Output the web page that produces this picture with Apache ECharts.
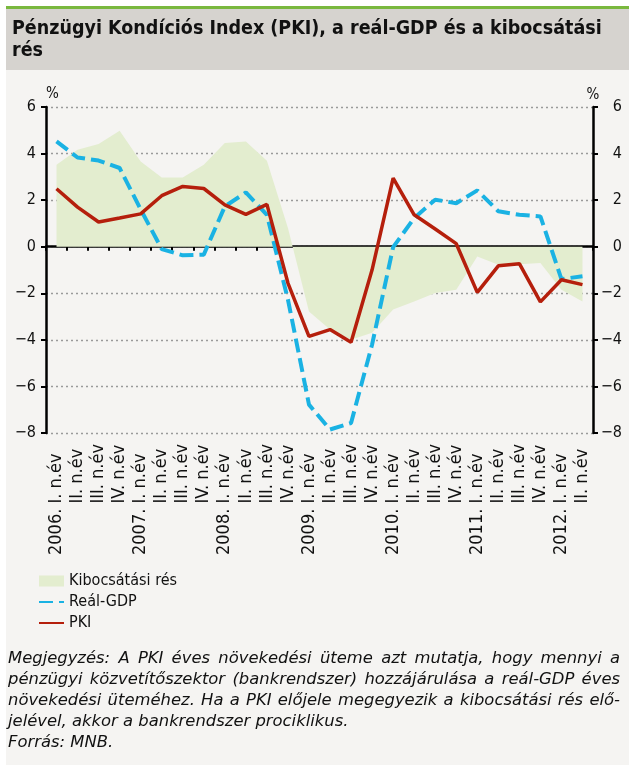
<!DOCTYPE html>
<html>
<head>
<meta charset="utf-8">
<script src="https://cdn.jsdelivr.net/npm/echarts@6/dist/echarts.min.js"></script>
<style>
  html, body { margin: 0; padding: 0; background: #fff; }
  #chart { width: 629px; height: 765px; }
</style>
</head>
<body>
<div id="chart"></div>
<script>
const quarters = ['2006Q1', '2006Q2', '2006Q3', '2006Q4', '2007Q1', '2007Q2', '2007Q3', '2007Q4',
  '2008Q1', '2008Q2', '2008Q3', '2008Q4', '2009Q1', '2009Q2', '2009Q3', '2009Q4',
  '2010Q1', '2010Q2', '2010Q3', '2010Q4', '2011Q1', '2011Q2', '2011Q3', '2011Q4',
  '2012Q1', '2012Q2'];
// year part of the tick label (only on the first quarter) and quarter part
const tickYears = ['2006.', '', '', '', '2007.', '', '', '', '2008.', '', '', '', '2009.', '', '', '',
  '2010.', '', '', '', '2011.', '', '', '', '2012.', ''];
const tickQuarters = ['I. n.év', 'II. n.év', 'III. n.év', 'IV. n.év'];

// kibocsátási rés (area)
const outputGap = [3.52, 4.16, 4.41, 4.98, 3.66, 2.97, 2.97, 3.52, 4.45, 4.52, 3.69, 0.8,
  -2.78, -3.56, -4.0, -3.7, -2.7, -2.35, -1.99, -1.85, -0.42, -0.77, -0.75, -0.70, -1.85, -2.35];
// reál-GDP
const realGdp = [4.52, 3.83, 3.70, 3.38, 1.6, -0.10, -0.37, -0.34, 1.73, 2.33, 1.37, -2.27,
  -6.78, -7.85, -7.57, -4.2, -0.02, 1.23, 2.02, 1.87, 2.42, 1.52, 1.37, 1.30, -1.39, -1.27];
// PKI
const pki = [2.49, 1.70, 1.06, 1.23, 1.41, 2.19, 2.59, 2.50, 1.80, 1.39, 1.82, -1.56,
  -3.85, -3.56, -4.10, -0.99, 2.95, 1.37, 0.76, 0.13, -1.96, -0.82, -0.73, -2.37, -1.42, -1.63];

const seriesNames = ['Kibocsátási rés', 'Reál-GDP', 'PKI'];
const titleText = 'Pénzügyi Kondíciós Index (PKI), a reál-GDP és a kibocsátási\nrés';
const noteLines = [
  'Megjegyzés: A PKI éves növekedési üteme azt mutatja, hogy mennyi a',
  'pénzügyi közvetítőszektor (bankrendszer) hozzájárulása a reál-GDP éves',
  'növekedési üteméhez. Ha a PKI előjele megegyezik a kibocsátási rés elő-',
  'jelével, akkor a bankrendszer prociklikus.',
  'Forrás: MNB.'
];
const justifiedLines = 3; // first three lines are justified

const FONT = '"DejaVu Sans Condensed", "DejaVu Sans", sans-serif';
const NOTE_FONT = 'italic 16.4px "DejaVu Sans", sans-serif';
const TXT = '#111';

let myChart = echarts.init(document.getElementById('chart'), null, {renderer: 'canvas'});

// justified note text: spread words over the full width
let measureCtx = document.createElement('canvas').getContext('2d');
measureCtx.font = NOTE_FONT;
let noteLeft = 8, noteWidth = 612;
let noteGraphics = [];
noteLines.forEach((line, i) => {
  let top = 651 + i * 21;
  if (i >= justifiedLines) {
    noteGraphics.push({type: 'text', left: noteLeft, top: top, style: {text: line, font: NOTE_FONT, fill: TXT}});
    return;
  }
  let words = line.split(' ');
  let wordsW = words.reduce((s, w) => s + measureCtx.measureText(w).width, 0);
  let gap = (noteWidth - wordsW) / (words.length - 1);
  let x = noteLeft;
  words.forEach(w => {
    noteGraphics.push({type: 'text', x: x, y: top, style: {text: w, font: NOTE_FONT, fill: TXT, textVerticalAlign: 'top'}});
    x += measureCtx.measureText(w).width + gap;
  });
});

let yLabel = v => String(v).replace('-', '\u2212');

// quarter parts line up; a hidden year prefix keeps them aligned with the year labels
let xLabel = (v, i) => {
  let q = tickQuarters[i % 4];
  if (tickYears[i]) return tickYears[i] + ' ' + q;
  return '{h|' + tickYears[i - (i % 4)] + ' }' + q;
};

let option = {
  backgroundColor: '#f5f4f2',
  animation: false,
  title: {
    text: titleText,
    left: 12,
    top: 18,
    padding: 0,
    textStyle: {
      fontFamily: FONT,
      fontSize: 19.5,
      fontWeight: 'bold',
      lineHeight: 22,
      color: TXT
    }
  },
  graphic: [
    {type: 'rect', left: 0, top: 0, z: -10, shape: {width: 6, height: 765}, style: {fill: '#fff'}},
    {type: 'rect', left: 0, top: 0, z: -10, shape: {width: 629, height: 6}, style: {fill: '#fff'}},
    {type: 'rect', left: 6, top: 6, z: -9, shape: {width: 623, height: 3}, style: {fill: '#7ab83e'}},
    {type: 'rect', left: 6, top: 9, z: -9, shape: {width: 623, height: 61}, style: {fill: '#d6d3cf'}}
  ].concat(noteGraphics),
  legend: {
    orient: 'vertical',
    left: 38,
    top: 572,
    padding: 0,
    itemWidth: 25,
    itemHeight: 11,
    itemGap: 3,
    textStyle: {fontFamily: FONT, fontSize: 16, color: TXT, lineHeight: 18},
    data: [
      {name: seriesNames[0], icon: 'rect'},
      {name: seriesNames[1], itemStyle: {opacity: 0}},
      {name: seriesNames[2], itemStyle: {opacity: 0}}
    ]
  },
  grid: {
    left: 46,
    right: 36,
    top: 107,
    bottom: 332
  },
  xAxis: [
    {
      type: 'category',
      data: quarters,
      boundaryGap: true,
      axisLine: {onZero: true, lineStyle: {color: '#000', width: 2.5}},
      axisTick: {show: true, interval: 0, length: 4, lineStyle: {color: '#000', width: 2}},
      axisLabel: {show: false},
      splitLine: {show: false}
    },
    {
      type: 'category',
      data: quarters,
      position: 'bottom',
      boundaryGap: true,
      axisLine: {show: false, onZero: false},
      axisTick: {show: false},
      axisLabel: {
        rotate: 90,
        margin: 122,
        align: 'left',
        verticalAlign: 'middle',
        interval: 0,
        fontFamily: FONT,
        fontSize: 18,
        color: TXT,
        formatter: xLabel,
        rich: {
          h: {fontFamily: FONT, fontSize: 18, color: 'rgba(0,0,0,0)'}
        }
      }
    }
  ],
  yAxis: [
    {
      type: 'value',
      position: 'left',
      min: -8,
      max: 6,
      interval: 2,
      name: '%',
      nameLocation: 'end',
      nameGap: 5,
      nameTextStyle: {fontFamily: FONT, fontSize: 15, color: TXT, align: 'left', verticalAlign: 'bottom'},
      axisLine: {show: true, lineStyle: {color: '#000', width: 2.5}},
      axisTick: {show: true, length: 5, lineStyle: {color: '#000', width: 2}},
      axisLabel: {margin: 10, fontFamily: FONT, fontSize: 16, color: TXT, formatter: yLabel},
      splitLine: {show: true, lineStyle: {color: '#9a9a9a', width: 1.3, type: [2, 3]}}
    },
    {
      type: 'value',
      position: 'right',
      min: -8,
      max: 6,
      interval: 2,
      name: '%',
      nameLocation: 'end',
      nameGap: 4,
      nameTextStyle: {fontFamily: FONT, fontSize: 15, color: TXT, align: 'center', verticalAlign: 'bottom'},
      axisLine: {show: true, lineStyle: {color: '#000', width: 2.5}},
      axisTick: {show: true, length: 5, lineStyle: {color: '#000', width: 2}},
      axisLabel: {margin: 29, align: 'right', fontFamily: FONT, fontSize: 16, color: TXT, formatter: yLabel},
      splitLine: {show: false}
    }
  ],
  series: [
    {
      name: seriesNames[0],
      type: 'line',
      data: outputGap,
      symbol: 'none',
      color: '#e3edcf',
      lineStyle: {width: 0},
      areaStyle: {color: '#e3edcf', opacity: 1},
      z: 1
    },
    {
      name: seriesNames[1],
      type: 'line',
      data: realGdp,
      symbol: 'none',
      color: '#1ab2e3',
      lineStyle: {color: '#1ab2e3', width: 4, type: [14, 6]},
      z: 3
    },
    {
      name: seriesNames[2],
      type: 'line',
      data: pki,
      symbol: 'none',
      color: '#b51f0c',
      lineStyle: {color: '#b51f0c', width: 3.5},
      z: 4
    }
  ]
};

option && myChart.setOption(option);
</script>
</body>
</html>
